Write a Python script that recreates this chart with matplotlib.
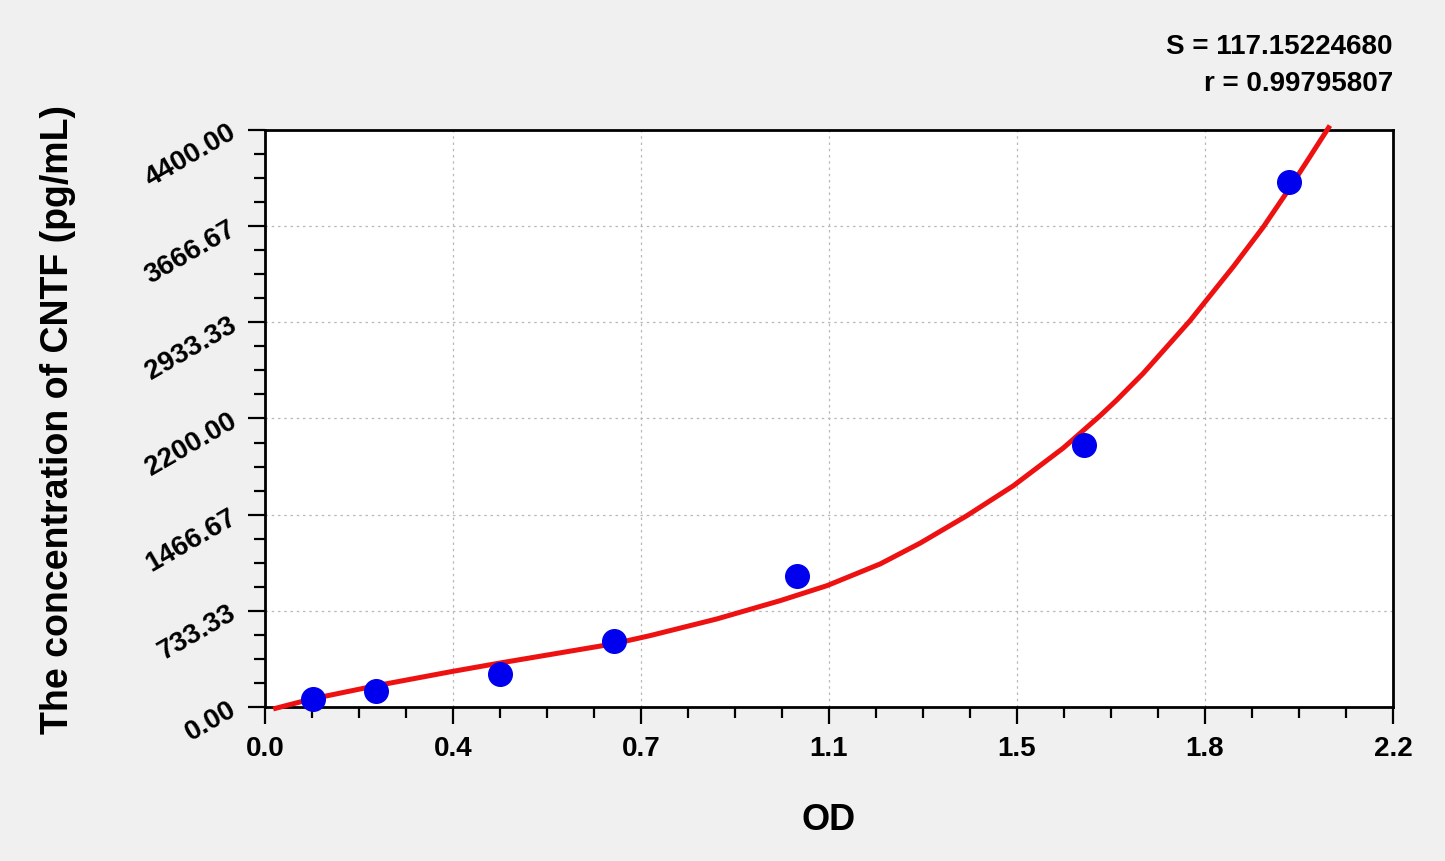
import numpy as np
import matplotlib.pyplot as plt
from matplotlib.ticker import AutoMinorLocator, FormatStrFormatter

# standards: OD reading vs concentration (pg/mL)
od = [0.094, 0.216, 0.458, 0.681, 1.038, 1.597, 1.998]
conc = [62.5, 125, 250, 500, 1000, 2000, 4000]

# fitted curve
curve_od = [0.016, 0.091, 0.218, 0.364, 0.458, 0.679, 0.751, 0.881, 1.005, 1.096,
            1.200, 1.278, 1.369, 1.460, 1.557, 1.629, 1.661, 1.713, 1.804, 1.889,
            1.947, 1.993, 2.032, 2.077]
curve_conc = [-15, 61, 163, 270, 335, 481, 544, 671, 811, 925,
              1091, 1250, 1459, 1688, 1975, 2222, 2340, 2545, 2945, 3360,
              3660, 3925, 4160, 4434]

s_text = "S = 117.15224680"
r_text = "r = 0.99795807"

narrow = ["Liberation Sans Narrow", "Liberation Sans", "DejaVu Sans"]
plt.rcParams["font.family"] = ["Liberation Sans", "DejaVu Sans"]

bg = "#f0f0f0"
fig = plt.figure(figsize=(14.45, 8.62), dpi=100, facecolor=bg)
ax = fig.add_axes([0.1834, 0.1787, 0.7806, 0.6693])
ax.set_facecolor("white")

ax.plot(curve_od, curve_conc, color="#ee1111", lw=3.6, zorder=3, clip_on=False,
        solid_joinstyle="round", solid_capstyle="butt")
ax.plot(od, conc, "o", color="#0000ee", ms=17, zorder=4, clip_on=False)

ax.set_xlim(0, 2.2)
ax.set_ylim(0, 4400)
ax.set_xticks(np.linspace(0, 2.2, 7))
ax.set_yticks(np.linspace(0, 4400, 7))
ax.xaxis.set_major_formatter(FormatStrFormatter("%.1f"))
ax.yaxis.set_major_formatter(FormatStrFormatter("%.2f"))
ax.xaxis.set_minor_locator(AutoMinorLocator(4))
ax.yaxis.set_minor_locator(AutoMinorLocator(4))

ax.grid(True, which="major", color="#b8b8b8", ls=(0, (2, 3)), lw=0.9)
for sp in ax.spines.values():
    sp.set_linewidth(2)

ax.tick_params(which="major", length=12, width=1.6, direction="out")
ax.tick_params(which="minor", length=8, width=1.6, direction="out")
ax.tick_params(axis="x", which="major", pad=8)
ax.tick_params(axis="y", which="major", pad=10)

for lab in ax.get_xticklabels():
    lab.set_family(narrow)
    lab.set_fontsize(20)
    lab.set_fontweight("bold")
for lab in ax.get_yticklabels():
    lab.set_family(narrow)
    lab.set_fontsize(20)
    lab.set_fontweight("bold")
    lab.set_rotation(30)
    lab.set_rotation_mode("anchor")
    lab.set_ha("right")
    lab.set_va("center")

ax.set_xlabel("OD", fontsize=26, fontweight="bold")
ax.xaxis.set_label_coords(0.5, -0.165)
ax.set_ylabel("The concentration of CNTF (pg/mL)", fontsize=27, fontweight="bold")
ax.yaxis.set_label_coords(-0.168, 0.5)

fig.text(0.964, 0.945, s_text, ha="right", va="center", fontsize=20,
         fontweight="bold", family=narrow)
fig.text(0.964, 0.903, r_text, ha="right", va="center", fontsize=20,
         fontweight="bold", family=narrow)

fig.savefig("out.png", dpi=100, facecolor=bg)
